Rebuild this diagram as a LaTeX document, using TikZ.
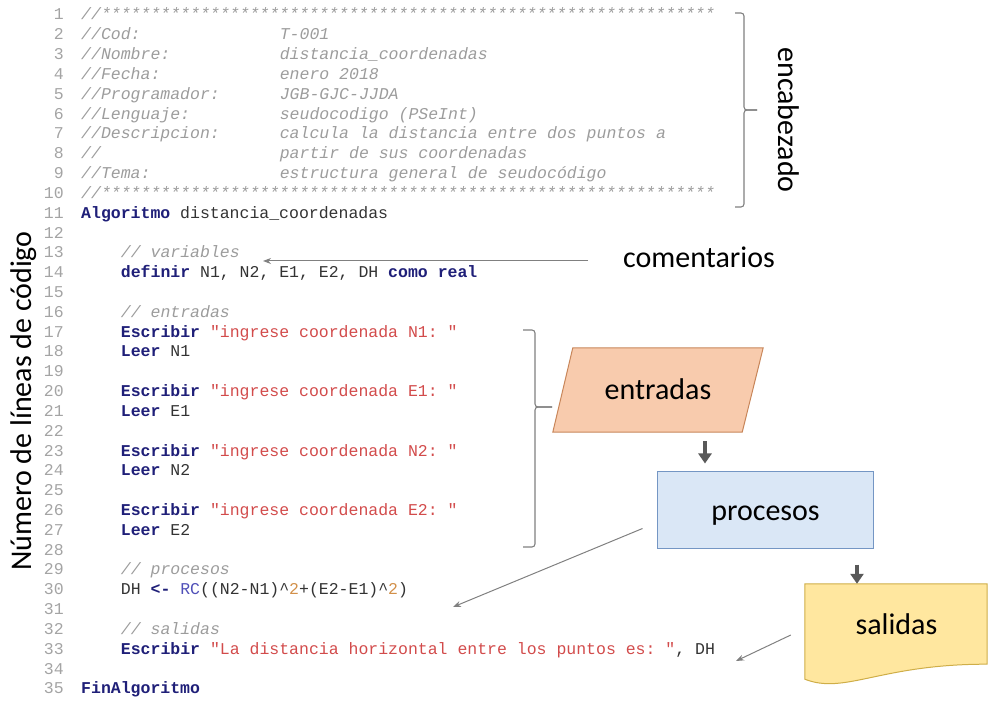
\documentclass[tikz,border=0pt]{standalone}
\usepackage{fontspec}
\setmonofont{Liberation Mono}
\newfontfamily\lblfont{Carlito}
\usetikzlibrary{arrows.meta}

\definecolor{numc}{HTML}{A4A4A4}
\definecolor{cmtc}{HTML}{9C9C9C}
\definecolor{plainc}{HTML}{333333}
\definecolor{kwc}{HTML}{1F1F78}
\definecolor{strc}{HTML}{D24B4B}
\definecolor{rcc}{HTML}{5050B8}
\definecolor{litc}{HTML}{D2904A}
\definecolor{linkc}{HTML}{808080}
\definecolor{blockc}{HTML}{595959}
\definecolor{inFill}{HTML}{F8CBAD}
\definecolor{inDraw}{HTML}{C8865A}
\definecolor{prFill}{HTML}{DAE7F6}
\definecolor{prDraw}{HTML}{7496C4}
\definecolor{outFill}{HTML}{FFE79F}
\definecolor{outDraw}{HTML}{CFAE48}

\newcommand\codesize{\fontsize{16.5}{19.8}\selectfont}
\newcommand\lblsize{\lblfont\fontsize{30}{36}\selectfont}
\newcommand\kwd[1]{{\color{kwc}\bfseries #1}}
\newcommand\strq[1]{{\color{strc}#1}}
\newcommand\caret{\textasciicircum}

\begin{document}
\begin{tikzpicture}[x=1pt,y=-1pt,
  lnum/.style={anchor=base east, inner sep=0pt, text=numc, font=\codesize\ttfamily},
  code/.style={anchor=base west, inner sep=0pt, text=plainc, font=\codesize\ttfamily\frenchspacing},
  hdr/.style={code, text=cmtc, font=\codesize\ttfamily\itshape\frenchspacing},
  cmt/.style={hdr},
  lbl/.style={inner sep=0pt, anchor=base, text=black, font=\lblsize},
  area/.style={rectangle, inner sep=0pt},
  pointer/.style={draw=linkc, line width=1pt, -{Stealth[length=8pt,width=6pt]}},
  blockarrow/.style={draw=blockc, line width=4.5pt, -{Triangle[length=10pt,width=13pt]}},
  bracket/.style={draw=linkc, line width=1.1pt, rounded corners=3pt},
]
\useasboundingbox (0,0) rectangle (989,703);

% line numbers
\foreach \n in {1,...,35}
  \node[lnum] (ln\n) at (64,{20+(\n-1)*19.82}) {\n};

% header block
\node[hdr] (h1) at (81,20.00) {//**************************************************************};
\node[hdr] (h2k) at (81,39.82) {//Cod:};
\node[hdr] (h2v) at (279.6,39.82) {T-001};
\node[hdr] (h3k) at (81,59.64) {//Nombre:};
\node[hdr] (h3v) at (279.6,59.64) {distancia\_coordenadas};
\node[hdr] (h4k) at (81,79.46) {//Fecha:};
\node[hdr] (h4v) at (279.6,79.46) {enero 2018};
\node[hdr] (h5k) at (81,99.28) {//Programador:};
\node[hdr] (h5v) at (279.6,99.28) {JGB-GJC-JJDA};
\node[hdr] (h6k) at (81,119.10) {//Lenguaje:};
\node[hdr] (h6v) at (279.6,119.10) {seudocodigo (PSeInt)};
\node[hdr] (h7k) at (81,138.92) {//Descripcion:};
\node[hdr] (h7v) at (279.6,138.92) {calcula la distancia entre dos puntos a};
\node[hdr] (h8k) at (81,158.74) {//};
\node[hdr] (h8v) at (279.6,158.74) {partir de sus coordenadas};
\node[hdr] (h9k) at (81,178.56) {//Tema:};
\node[hdr] (h9v) at (279.6,178.56) {estructura general de seudocódigo};
\node[hdr] (h10) at (81,198.38) {//**************************************************************};

% algorithm body
\node[code] (c11) at (81,218.20) {\kwd{Algoritmo} distancia\_coordenadas};
\node[cmt]  (c13) at (120.7,257.84) {// variables};
\node[code] (c14) at (120.7,277.66) {\kwd{definir} N1, N2, E1, E2, DH \kwd{como} \kwd{real}};
\node[cmt]  (c16) at (120.7,317.30) {// entradas};
\node[code] (c17) at (120.7,337.12) {\kwd{Escribir} \strq{"ingrese coordenada N1: "}};
\node[code] (c18) at (120.7,356.94) {\kwd{Leer} N1};
\node[code] (c20) at (120.7,396.58) {\kwd{Escribir} \strq{"ingrese coordenada E1: "}};
\node[code] (c21) at (120.7,416.40) {\kwd{Leer} E1};
\node[code] (c23) at (120.7,456.04) {\kwd{Escribir} \strq{"ingrese coordenada N2: "}};
\node[code] (c24) at (120.7,475.86) {\kwd{Leer} N2};
\node[code] (c26) at (120.7,515.50) {\kwd{Escribir} \strq{"ingrese coordenada E2: "}};
\node[code] (c27) at (120.7,535.32) {\kwd{Leer} E2};
\node[cmt]  (c29) at (120.7,574.96) {// procesos};
\node[code] (c30) at (120.7,594.78) {DH \kwd{<-} {\color{rcc}RC}((N2-N1)\caret{\color{litc}2}+(E2-E1)\caret{\color{litc}2})};
\node[cmt]  (c32) at (120.7,634.42) {// salidas};
\node[code] (c33) at (120.7,654.24) {\kwd{Escribir} \strq{"La distancia horizontal entre los puntos es: "}, DH};
\node[code] (c35) at (81,693.88) {\kwd{FinAlgoritmo}};

% side labels
\node[lbl, rotate=90] (numlbl) at (31,401) {Número de líneas de código};
\node[lbl, rotate=-90] (enclbl) at (778,120) {encabezado};
\node[lbl] (comlbl) at (699,268) {comentarios};

% brackets
\draw[bracket] (735,13) -- (744,13) -- (744,110) -- (757,110);
\draw[bracket] (735,207) -- (744,207) -- (744,110) -- (757,110);
\draw[bracket] (523,330) -- (535,330) -- (535,407) -- (552,407);
\draw[bracket] (523,547) -- (535,547) -- (535,407) -- (552,407);

% flowchart shapes
\node[area, minimum width=210pt, minimum height=84pt] (entradas) at (658,390) {};
\fill[inFill, draw=inDraw, line width=1pt]
  ([xshift=20pt]entradas.north west) -- (entradas.north east)
  -- ([xshift=-21pt]entradas.south east) -- (entradas.south west) -- cycle;
\node[lbl] (entradas-t) at (658,400) {entradas};

\node[area, minimum width=216pt, minimum height=76pt,
      fill=prFill, draw=prDraw, line width=1pt] (procesos) at (765,510) {};
\node[lbl] (procesos-t) at (765.5,520) {procesos};

\node[area, minimum width=182pt, minimum height=96pt] (salidas) at (896,632) {};
\fill[outFill, draw=outDraw, line width=1pt]
  (salidas.north west) -- (salidas.north east) -- ([yshift=16pt]salidas.south east)
  .. controls (880,664) and (845,695) .. ([yshift=1pt]salidas.south west) -- cycle;
\node[lbl] (salidas-t) at (896.5,634) {salidas};

% flow arrows
\coordinate (colA) at (705,0);
\coordinate (colB) at (857,0);
\draw[blockarrow, shorten <=9pt, shorten >=8pt] (entradas.south -| colA) -- (procesos.north -| colA);
\draw[blockarrow, shorten <=16pt, shorten >=0pt] (procesos.south -| colB) -- (salidas.north -| colB);

% pointers into the code
\coordinate (tipcom) at (263,261);
\coordinate (tippro) at (453,607);
\coordinate (tipsal) at (736,661);
\draw[pointer, shorten <=35pt] (comlbl.west |- tipcom) -- (tipcom);
\draw[pointer] ([shift={(-14,-20)}]procesos.south west) -- (tippro);
\draw[pointer] ([shift={(-14,3)}]salidas.west) -- (tipsal);
\end{tikzpicture}
\end{document}
